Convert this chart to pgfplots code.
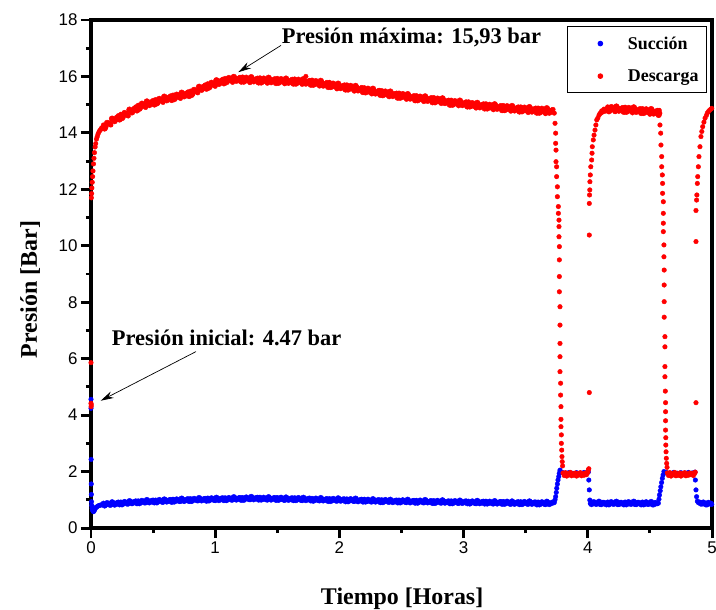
\documentclass[border=0pt]{standalone}
\usepackage{pgfplots}
\usepackage{pgfplotstable}
\pgfplotsset{compat=1.18}
\usetikzlibrary{arrows.meta}
\usepackage{fontspec}
\setmainfont{Liberation Serif}
\newfontfamily\sansfont{Liberation Sans}

\pgfplotstableread{
t p
0.000 4.56
0.000 4.24
0.001 2.43
0.002 1.56
0.003 1.19
0.004 0.93
0.006 0.80
0.009 0.70
0.012 0.64
0.016 0.60
0.020 0.58
0.024 0.60
0.028 0.64
0.033 0.68
0.038 0.72
0.044 0.74
0.050 0.76
0.060 0.79
0.070 0.80
0.080 0.82
0.090 0.82
0.10 0.88
0.12 0.82
0.14 0.86
0.16 0.81
0.18 0.89
0.20 0.86
0.22 0.92
0.24 0.92
0.26 0.86
0.28 0.90
0.30 0.85
0.32 0.94
0.34 0.90
0.36 0.96
0.38 0.96
0.40 0.90
0.42 0.94
0.44 0.89
0.46 0.97
0.48 0.94
0.50 0.99
0.52 0.99
0.54 0.93
0.56 0.97
0.58 0.91
0.60 1.00
0.62 0.96
0.64 1.01
0.66 1.02
0.68 0.95
0.70 0.99
0.72 0.94
0.74 1.02
0.76 0.98
0.78 1.04
0.80 1.04
0.82 0.97
0.84 1.02
0.86 0.96
0.88 1.04
0.90 1.00
0.92 1.05
0.94 1.06
0.96 0.99
0.98 1.03
1.00 0.97
1.02 1.05
1.04 1.02
1.06 1.07
1.08 1.07
1.10 1.00
1.12 1.04
1.14 0.99
1.16 1.07
1.18 1.03
1.20 1.08
1.22 1.08
1.24 1.02
1.26 1.06
1.28 1.00
1.30 1.08
1.32 1.04
1.34 1.09
1.36 1.09
1.38 1.01
1.40 1.05
1.42 0.99
1.44 1.07
1.46 1.03
1.48 1.08
1.50 1.08
1.52 1.01
1.54 1.04
1.56 0.98
1.58 1.06
1.60 1.02
1.62 1.07
1.64 1.07
1.66 1.00
1.68 1.03
1.70 0.97
1.72 1.05
1.74 1.01
1.76 1.06
1.78 1.05
1.80 0.98
1.82 1.02
1.84 0.96
1.86 1.04
1.88 0.99
1.90 1.04
1.92 1.04
1.94 0.97
1.96 1.01
1.98 0.95
2.00 1.03
2.02 0.99
2.04 1.03
2.06 1.03
2.08 0.96
2.10 1.00
2.12 0.94
2.14 1.01
2.16 0.97
2.18 1.02
2.20 1.02
2.22 0.94
2.24 0.98
2.26 0.92
2.28 1.00
2.30 0.96
2.32 1.00
2.34 1.00
2.36 0.93
2.38 0.97
2.40 0.91
2.42 0.98
2.44 0.94
2.46 0.99
2.48 0.99
2.50 0.92
2.52 0.96
2.54 0.90
2.56 0.97
2.58 0.93
2.60 0.98
2.62 0.98
2.64 0.91
2.66 0.95
2.68 0.89
2.70 0.97
2.72 0.92
2.74 0.97
2.76 0.97
2.78 0.90
2.80 0.94
2.82 0.88
2.84 0.96
2.86 0.91
2.88 0.96
2.90 0.96
2.92 0.89
2.94 0.93
2.96 0.87
2.98 0.95
3.00 0.91
3.02 0.96
3.04 0.95
3.06 0.88
3.08 0.92
3.10 0.86
3.12 0.94
3.14 0.90
3.16 0.95
3.18 0.95
3.20 0.87
3.22 0.91
3.24 0.85
3.26 0.93
3.28 0.89
3.30 0.94
3.32 0.94
3.34 0.87
3.36 0.90
3.38 0.84
3.40 0.92
3.42 0.88
3.44 0.93
3.46 0.93
3.48 0.86
3.50 0.90
3.52 0.84
3.54 0.92
3.56 0.88
3.58 0.92
3.60 0.92
3.62 0.85
3.64 0.89
3.66 0.83
3.68 0.91
3.70 0.87
3.72 0.92
3.730 0.90
3.736 1.00
3.741 1.11
3.746 1.26
3.750 1.41
3.755 1.56
3.760 1.70
3.766 1.82
3.770 1.94
3.776 2.05
3.79 1.98
3.82 1.95
3.85 1.97
3.88 1.94
3.91 1.96
3.94 1.95
3.97 1.97
4.000 1.98
4.004 1.98
4.008 1.70
4.012 1.35
4.016 0.99
4.020 0.87
4.04 0.92
4.06 0.85
4.08 0.89
4.10 0.83
4.12 0.91
4.14 0.87
4.16 0.92
4.18 0.92
4.20 0.85
4.22 0.89
4.24 0.83
4.26 0.91
4.28 0.87
4.30 0.92
4.32 0.92
4.34 0.85
4.36 0.89
4.38 0.83
4.40 0.91
4.42 0.87
4.44 0.92
4.46 0.91
4.48 0.84
4.50 0.88
4.52 0.82
4.54 0.90
4.56 0.86
4.568 0.88
4.573 1.02
4.577 1.17
4.583 1.32
4.588 1.46
4.594 1.61
4.600 1.76
4.606 1.88
4.613 2.00
4.63 1.97
4.66 1.95
4.69 1.97
4.72 1.94
4.75 1.96
4.78 1.95
4.81 1.97
4.84 1.95
4.863 1.98
4.866 1.70
4.871 1.35
4.876 1.11
4.882 0.95
4.890 0.90
4.90 0.92
4.92 0.85
4.94 0.88
4.96 0.82
4.98 0.88
4.998 0.84
}\succion

\pgfplotstableread{
t p
0.11 0.80
0.13 0.88
0.15 0.83
0.17 0.91
0.19 0.83
0.21 0.88
0.23 0.84
0.25 0.84
0.27 0.92
0.29 0.87
0.31 0.95
0.33 0.88
0.35 0.92
0.37 0.88
0.39 0.88
0.41 0.96
0.43 0.91
0.45 0.99
0.47 0.91
0.49 0.96
0.51 0.91
0.53 0.91
0.55 0.99
0.57 0.94
0.59 1.01
0.61 0.94
0.63 0.98
0.65 0.93
0.67 0.94
0.69 1.01
0.71 0.96
0.73 1.04
0.75 0.96
0.77 1.00
0.79 0.96
0.81 0.96
0.83 1.03
0.85 0.99
0.87 1.06
0.89 0.98
0.91 1.02
0.93 0.97
0.95 0.98
0.97 1.05
0.99 1.00
1.01 1.07
1.03 0.99
1.05 1.04
1.07 0.99
1.09 0.99
1.11 1.06
1.13 1.01
1.15 1.09
1.17 1.01
1.19 1.05
1.21 1.00
1.23 1.00
1.25 1.08
1.27 1.03
1.29 1.10
1.31 1.02
1.33 1.06
1.35 1.01
1.37 1.01
1.39 1.07
1.41 1.02
1.43 1.09
1.45 1.01
1.47 1.05
1.49 1.00
1.51 1.00
1.53 1.07
1.55 1.01
1.57 1.08
1.59 1.00
1.61 1.04
1.63 0.99
1.65 0.99
1.67 1.06
1.69 1.00
1.71 1.07
1.73 0.99
1.75 1.03
1.77 0.98
1.79 0.97
1.81 1.04
1.83 0.99
1.85 1.06
1.87 0.98
1.89 1.01
1.91 0.96
1.93 0.96
1.95 1.03
1.97 0.98
1.99 1.05
2.01 0.97
2.03 1.01
2.05 0.95
2.07 0.95
2.09 1.02
2.11 0.97
2.13 1.04
2.15 0.95
2.17 0.99
2.19 0.94
2.21 0.94
2.23 1.00
2.25 0.95
2.27 1.02
2.29 0.94
2.31 0.98
2.33 0.92
2.35 0.92
2.37 0.99
2.39 0.94
2.41 1.00
2.43 0.92
2.45 0.96
2.47 0.91
2.49 0.91
2.51 0.98
2.53 0.93
2.55 1.00
2.57 0.91
2.59 0.95
2.61 0.90
2.63 0.90
2.65 0.97
2.67 0.92
2.69 0.99
2.71 0.91
2.73 0.94
2.75 0.89
2.77 0.89
2.79 0.96
2.81 0.91
2.83 0.98
2.85 0.90
2.87 0.93
2.89 0.88
2.91 0.88
2.93 0.95
2.95 0.90
2.97 0.97
2.99 0.89
3.01 0.93
3.03 0.88
3.05 0.87
3.07 0.94
3.09 0.89
3.11 0.96
3.13 0.88
3.15 0.92
3.17 0.87
3.19 0.87
3.21 0.93
3.23 0.88
3.25 0.95
3.27 0.87
3.29 0.91
3.31 0.86
3.33 0.86
3.35 0.93
3.37 0.87
3.39 0.94
3.41 0.86
3.43 0.90
3.45 0.85
3.47 0.85
3.49 0.92
3.51 0.87
3.53 0.94
3.55 0.86
3.57 0.90
3.59 0.84
3.61 0.84
3.63 0.91
3.65 0.86
3.67 0.93
3.69 0.85
3.71 0.89
4.03 0.85
4.05 0.91
4.07 0.86
4.09 0.93
4.11 0.85
4.13 0.89
4.15 0.84
4.17 0.84
4.19 0.91
4.21 0.86
4.23 0.93
4.25 0.85
4.27 0.89
4.29 0.84
4.31 0.84
4.33 0.91
4.35 0.86
4.37 0.93
4.39 0.85
4.41 0.89
4.43 0.84
4.45 0.84
4.47 0.91
4.49 0.86
4.51 0.92
4.53 0.84
4.55 0.88
4.91 0.87
4.93 0.90
4.95 0.84
4.97 0.89
4.99 0.86
}\succionb

\pgfplotstableread{
t p
0.000 4.42
0.001 4.30
0.002 4.36
0.000 5.86
0.003 11.70
0.005 11.85
0.007 12.05
0.010 12.25
0.013 12.45
0.016 12.65
0.020 12.90
0.024 13.10
0.028 13.30
0.033 13.50
0.038 13.62
0.044 13.78
0.050 13.86
0.056 13.95
0.063 14.02
0.070 14.08
0.078 14.12
0.086 14.18
0.094 14.15
0.10 14.28
0.12 14.20
0.14 14.35
0.16 14.28
0.18 14.49
0.20 14.47
0.22 14.61
0.24 14.66
0.26 14.56
0.28 14.69
0.30 14.60
0.32 14.80
0.34 14.77
0.36 14.92
0.38 14.98
0.40 14.89
0.42 15.01
0.44 14.90
0.46 15.08
0.48 15.02
0.50 15.15
0.52 15.18
0.54 15.07
0.56 15.18
0.58 15.08
0.60 15.25
0.62 15.19
0.64 15.31
0.66 15.34
0.68 15.22
0.70 15.33
0.72 15.22
0.74 15.39
0.76 15.33
0.78 15.45
0.80 15.48
0.82 15.38
0.84 15.51
0.86 15.42
0.88 15.61
0.90 15.57
0.92 15.70
0.94 15.74
0.96 15.63
0.98 15.75
1.00 15.65
1.02 15.83
1.04 15.77
1.06 15.90
1.08 15.93
1.10 15.82
1.12 15.91
1.14 15.79
1.16 15.94
1.18 15.87
1.20 15.97
1.22 15.98
1.24 15.83
1.26 15.92
1.28 15.78
1.30 15.93
1.32 15.85
1.34 15.94
1.36 15.95
1.38 15.80
1.40 15.89
1.42 15.76
1.44 15.91
1.46 15.82
1.48 15.92
1.50 15.93
1.52 15.79
1.54 15.87
1.56 15.74
1.58 15.88
1.60 15.80
1.62 15.90
1.64 15.91
1.66 15.76
1.68 15.85
1.70 15.72
1.72 15.86
1.73 16.00
1.74 15.77
1.76 15.86
1.78 15.87
1.80 15.72
1.82 15.80
1.84 15.66
1.86 15.79
1.88 15.70
1.90 15.79
1.92 15.79
1.94 15.63
1.96 15.71
1.98 15.56
2.00 15.70
2.02 15.61
2.04 15.70
2.06 15.70
2.08 15.55
2.10 15.63
2.12 15.48
2.14 15.62
2.16 15.52
2.18 15.61
2.20 15.60
2.22 15.45
2.24 15.52
2.26 15.38
2.28 15.51
2.30 15.42
2.32 15.51
2.34 15.50
2.36 15.35
2.38 15.42
2.40 15.28
2.42 15.42
2.44 15.33
2.46 15.41
2.48 15.41
2.50 15.26
2.52 15.34
2.54 15.19
2.56 15.33
2.58 15.23
2.60 15.32
2.62 15.32
2.64 15.17
2.66 15.25
2.68 15.11
2.70 15.25
2.72 15.16
2.74 15.25
2.76 15.25
2.78 15.10
2.80 15.18
2.82 15.04
2.84 15.17
2.86 15.08
2.88 15.16
2.90 15.16
2.92 15.01
2.94 15.09
2.96 14.96
2.98 15.10
3.00 15.01
3.02 15.10
3.04 15.10
3.06 14.94
3.08 15.02
3.10 14.88
3.12 15.02
3.14 14.93
3.16 15.03
3.18 15.03
3.20 14.88
3.22 14.96
3.24 14.82
3.26 14.97
3.28 14.88
3.30 14.97
3.32 14.97
3.34 14.82
3.36 14.91
3.38 14.77
3.40 14.91
3.42 14.82
3.44 14.92
3.46 14.92
3.48 14.78
3.50 14.86
3.52 14.72
3.54 14.87
3.56 14.78
3.58 14.88
3.60 14.88
3.62 14.73
3.64 14.82
3.66 14.68
3.68 14.83
3.70 14.74
3.72 14.83
3.73 14.70
3.736 14.34
3.741 13.99
3.741 13.63
3.744 13.39
3.744 12.98
3.749 12.80
3.749 12.45
3.755 12.09
3.755 11.74
3.763 11.39
3.763 11.15
3.768 10.91
3.768 10.68
3.768 10.32
3.771 9.97
3.771 9.50
3.771 8.91
3.771 8.37
3.776 7.84
3.776 7.19
3.776 6.54
3.776 6.07
3.776 5.54
3.781 5.13
3.781 4.71
3.784 4.30
3.784 3.85
3.784 3.59
3.787 3.30
3.787 3.00
3.790 2.76
3.792 2.53
3.794 2.35
3.797 2.20
3.800 1.95
3.81 1.86
3.82 1.96
3.83 1.84
3.84 1.93
3.85 1.88
3.86 1.97
3.87 1.85
3.88 1.92
3.89 1.87
3.90 1.95
3.91 1.84
3.92 1.93
3.93 1.88
3.94 1.96
3.95 1.85
3.96 1.92
3.97 1.87
3.98 1.95
3.99 1.89
4.00 1.97
4.005 2.06
4.008 2.10
4.012 4.80
4.012 10.38
4.012 11.50
4.014 11.80
4.016 11.98
4.017 12.27
4.020 12.51
4.024 12.80
4.031 13.04
4.034 13.28
4.036 13.51
4.044 13.75
4.050 13.92
4.058 14.10
4.065 14.28
4.072 14.46
4.080 14.52
4.090 14.62
4.098 14.69
4.105 14.70
4.112 14.78
4.120 14.74
4.130 14.84
4.140 14.77
4.152 14.85
4.16 14.92
4.18 14.79
4.20 14.88
4.22 14.75
4.24 14.89
4.26 14.81
4.28 14.90
4.30 14.91
4.32 14.76
4.34 14.85
4.36 14.71
4.38 14.86
4.40 14.77
4.42 14.86
4.44 14.86
4.46 14.72
4.48 14.80
4.50 14.66
4.52 14.80
4.54 14.71
4.56 14.80
4.575 14.80
4.580 14.70
4.581 14.28
4.587 13.99
4.589 13.57
4.595 13.16
4.595 12.80
4.600 12.51
4.602 12.21
4.602 11.86
4.608 11.56
4.608 11.15
4.608 10.80
4.608 10.50
4.613 10.03
4.613 9.61
4.615 9.14
4.615 8.61
4.615 8.02
4.615 7.47
4.621 6.78
4.621 6.42
4.621 5.72
4.621 5.36
4.624 4.85
4.626 4.44
4.626 4.12
4.626 3.80
4.626 3.47
4.628 3.20
4.628 2.94
4.630 2.70
4.632 2.47
4.635 2.29
4.638 2.15
4.640 1.95
4.65 1.86
4.66 1.96
4.67 1.84
4.68 1.93
4.69 1.88
4.70 1.97
4.71 1.85
4.72 1.92
4.73 1.87
4.74 1.95
4.75 1.84
4.76 1.93
4.77 1.88
4.78 1.96
4.79 1.85
4.80 1.92
4.81 1.87
4.82 1.95
4.83 1.89
4.84 1.94
4.85 1.86
4.86 1.93
4.865 1.98
4.871 4.44
4.871 10.15
4.871 11.25
4.876 11.62
4.878 11.80
4.882 12.21
4.885 12.45
4.890 12.80
4.895 13.16
4.903 13.51
4.911 13.87
4.918 14.05
4.925 14.22
4.935 14.38
4.944 14.52
4.955 14.62
4.962 14.70
4.970 14.75
4.980 14.80
4.990 14.84
4.998 14.87
}\descarga

\pgfplotstableread{
t p
0.11 14.16
0.13 14.35
0.15 14.32
0.17 14.50
0.19 14.42
0.21 14.54
0.23 14.48
0.25 14.53
0.27 14.70
0.29 14.65
0.31 14.82
0.33 14.73
0.35 14.85
0.37 14.80
0.39 14.86
0.41 15.03
0.43 14.96
0.45 15.11
0.47 14.99
0.49 15.09
0.51 15.01
0.53 15.05
0.55 15.20
0.57 15.14
0.59 15.28
0.61 15.16
0.63 15.25
0.65 15.17
0.67 15.20
0.69 15.35
0.71 15.28
0.73 15.42
0.75 15.30
0.77 15.39
0.79 15.31
0.81 15.35
0.83 15.52
0.85 15.47
0.87 15.63
0.89 15.53
0.91 15.64
0.93 15.57
0.95 15.61
0.97 15.77
0.99 15.71
1.01 15.86
1.03 15.74
1.05 15.84
1.07 15.76
1.09 15.80
1.11 15.94
1.13 15.86
1.15 15.98
1.17 15.85
1.19 15.92
1.21 15.82
1.23 15.82
1.25 15.95
1.27 15.85
1.29 15.97
1.31 15.83
1.33 15.89
1.35 15.79
1.37 15.79
1.39 15.92
1.41 15.83
1.43 15.95
1.45 15.80
1.47 15.87
1.49 15.77
1.51 15.78
1.53 15.90
1.55 15.81
1.57 15.92
1.59 15.78
1.61 15.85
1.63 15.75
1.65 15.75
1.67 15.88
1.69 15.79
1.71 15.90
1.73 15.75
1.75 15.81
1.77 15.71
1.79 15.71
1.81 15.83
1.83 15.73
1.85 15.84
1.87 15.68
1.89 15.74
1.91 15.63
1.93 15.63
1.95 15.74
1.97 15.64
1.99 15.74
2.01 15.59
2.03 15.65
2.05 15.54
2.07 15.54
2.09 15.66
2.11 15.56
2.13 15.66
2.15 15.51
2.17 15.56
2.19 15.45
2.21 15.44
2.23 15.56
2.25 15.45
2.27 15.56
2.29 15.40
2.31 15.46
2.33 15.35
2.35 15.34
2.37 15.46
2.39 15.35
2.41 15.46
2.43 15.31
2.45 15.37
2.47 15.25
2.49 15.25
2.51 15.37
2.53 15.27
2.55 15.37
2.57 15.22
2.59 15.27
2.61 15.16
2.63 15.16
2.65 15.28
2.67 15.18
2.69 15.29
2.71 15.14
2.73 15.20
2.75 15.09
2.77 15.09
2.79 15.21
2.81 15.11
2.83 15.22
2.85 15.06
2.87 15.12
2.89 15.00
2.91 15.00
2.93 15.12
2.95 15.03
2.97 15.14
2.99 14.99
3.01 15.05
3.03 14.94
3.05 14.94
3.07 15.05
3.09 14.95
3.11 15.06
3.13 14.91
3.15 14.98
3.17 14.87
3.19 14.87
3.21 14.99
3.23 14.89
3.25 15.01
3.27 14.86
3.29 14.92
3.31 14.81
3.33 14.81
3.35 14.94
3.37 14.84
3.39 14.95
3.41 14.80
3.43 14.87
3.45 14.76
3.47 14.77
3.49 14.89
3.51 14.79
3.53 14.91
3.55 14.76
3.57 14.83
3.59 14.72
3.61 14.72
3.63 14.85
3.65 14.75
3.67 14.87
3.69 14.72
3.71 14.79
4.17 14.77
4.19 14.91
4.21 14.82
4.23 14.93
4.25 14.79
4.27 14.85
4.29 14.75
4.31 14.75
4.33 14.88
4.35 14.78
4.37 14.90
4.39 14.75
4.41 14.81
4.43 14.71
4.45 14.71
4.47 14.83
4.49 14.73
4.51 14.84
4.53 14.69
4.55 14.75
4.57 14.64
}\descargab

\begin{document}
\begin{tikzpicture}
\begin{axis}[
  scale only axis,
  width=621bp, height=508bp,
  xmin=0, xmax=5, ymin=0, ymax=18,
  xtick={0,1,2,3,4,5},
  ytick={0,2,4,6,8,10,12,14,16,18},
  minor x tick num=1, minor y tick num=1,
  tick pos=left,
  tick align=outside,
  major tick length=10bp, minor tick length=5bp,
  every tick/.style={black, line width=3pt},
  axis line style={line width=3.5pt},
  /pgf/number format/assume math mode=true,
  tick label style={font=\sansfont\fontsize{17}{20}\selectfont},
  xlabel={\bfseries Tiempo [Horas]},
  ylabel={\bfseries Presión [Bar]},
  label style={font=\fontsize{24}{28}\selectfont},
  xlabel style={at={(axis description cs:0.501,-0.1496)}, anchor=base},
  ylabel style={at={(axis description cs:-0.087,0.4695)}, anchor=base},
  clip=false,
  legend style={at={(0.992,0.988)}, anchor=north east, draw=black, line width=1pt,
    font=\bfseries\fontsize{18}{21}\selectfont, row sep=15bp, inner xsep=6bp, inner ysep=8bp},
  legend cell align=left,
  legend image code/.code={\path (0bp,0bp) (51bp,0bp); \draw[#1] plot coordinates {(26bp,0bp)};},
]
\draw[line width=3.5pt, black, line cap=rect] (rel axis cs:0,0) rectangle (rel axis cs:1,1);
\addplot[only marks, mark=*, mark size=2.3bp, blue, mark options={draw=none, fill=blue}] table[x=t, y=p] {\succion};
\addlegendentry{Succión}
\addplot[forget plot, only marks, mark=*, mark size=2.9bp, blue, mark options={draw=none, fill=blue}] table[x=t, y=p] {\succionb};
\addplot[only marks, mark=*, mark size=2.3bp, red, mark options={draw=none, fill=red}] table[x=t, y=p] {\descarga};
\addlegendentry{Descarga}
\addplot[forget plot, only marks, mark=*, mark size=3bp, red, mark options={draw=none, fill=red}] table[x=t, y=p] {\descargab};
\node[anchor=base west, inner sep=0pt, font=\bfseries\fontsize{22.5}{26}\selectfont] at (axis cs:1.535,17.18) {Presión máxima: 15,93 bar};
\draw[line width=0.7bp, -{Stealth[length=13bp,width=7bp]}] (axis cs:1.53,17.1) -- (axis cs:1.186,16.15);
\node[anchor=base west, inner sep=0pt, font=\bfseries\fontsize{22.5}{26}\selectfont] at (axis cs:0.167,6.48) {Presión inicial: 4.47 bar};
\draw[line width=0.7bp, -{Stealth[length=13bp,width=7bp]}] (axis cs:0.845,6.25) -- (axis cs:0.078,4.51);
\coordinate (ll) at (rel axis cs:0,0);
\coordinate (ur) at (rel axis cs:1,1);
\end{axis}
\pgfresetboundingbox
\path[use as bounding box] ([shift={(-91bp,-81bp)}]ll) rectangle ([shift={(4bp,20bp)}]ur);
\end{tikzpicture}
\end{document}
